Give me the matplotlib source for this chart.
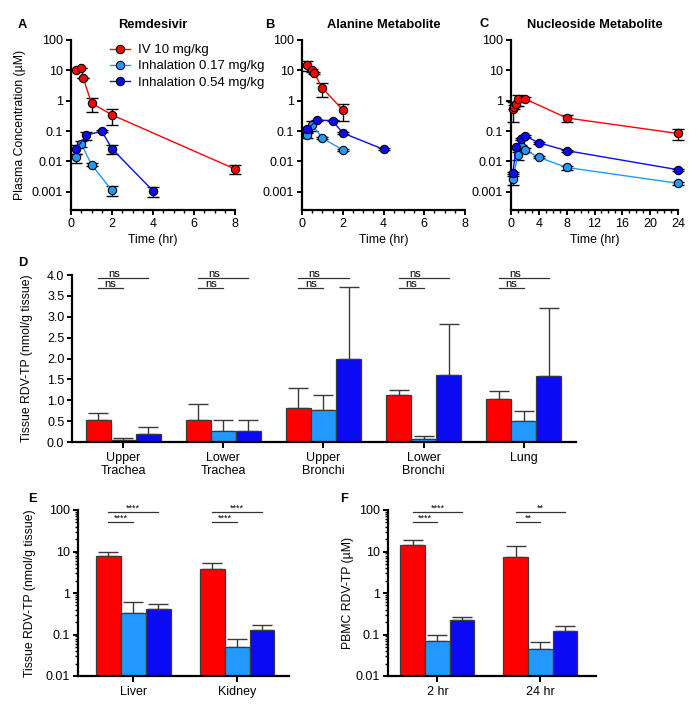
import numpy as np
import matplotlib
matplotlib.use("Agg")
import matplotlib.pyplot as plt
from matplotlib.ticker import FixedLocator, FixedFormatter, MultipleLocator, LogLocator, NullFormatter, NullLocator
from matplotlib.lines import Line2D

plt.rcParams['font.family'] = ['Liberation Sans', 'DejaVu Sans']

RED = '#FF0000'
LBLUE = '#2299FF'
BLUE = '#0A0AF5'
series_labels = ["IV 10 mg/kg", "Inhalation 0.17 mg/kg", "Inhalation 0.54 mg/kg"]

# ---------------- Panel A: Remdesivir ----------------
A_iv_t = [0.25, 0.5, 0.6, 1, 2, 8]
A_iv_c = [10.2, 12.2, 5.5, 0.83, 0.34, 0.0056]
A_iv_sd = [0, 0, 0, 0.40, 0.18, 0.0019]
A_lo_t = [0.25, 0.5, 1, 2]
A_lo_c = [0.0135, 0.038, 0.0078, 0.0011]
A_lo_sd = [0.0045, 0.008, 0.001, 0.0004]
A_hi_t = [0.25, 0.75, 1.5, 2, 4]
A_hi_c = [0.026, 0.072, 0.10, 0.026, 0.00107]
A_hi_sd = [0.008, 0.02, 0.005, 0.008, 0.0004]

# ---------------- Panel B: Alanine Metabolite ----------------
B_iv_t = [0.25, 0.5, 0.6, 1, 2]
B_iv_c = [14.6, 10.0, 8.2, 2.6, 0.50]
B_iv_sd = [5.0, 1.5, 0.8, 1.3, 0.29]
B_lo_t = [0.25, 0.5, 1, 2]
B_lo_c = [0.074, 0.16, 0.058, 0.024]
B_lo_sd = [0.015, 0.06, 0.004, 0.002]
B_hi_t = [0.25, 0.75, 1.5, 2, 4]
B_hi_c = [0.116, 0.23, 0.22, 0.086, 0.025]
B_hi_sd = [0.02, 0.01, 0.01, 0.005, 0.002]

# ---------------- Panel C: Nucleoside Metabolite ----------------
C_iv_t = [0.25, 0.5, 0.75, 1, 2, 8, 24]
C_iv_c = [0.55, 0.62, 0.78, 1.12, 1.15, 0.27, 0.083]
C_iv_sd = [0.35, 0.1, 0.1, 0.45, 0.2, 0.07, 0.032]
C_lo_t = [0.25, 1, 1.5, 2, 4, 8, 24]
C_lo_c = [0.0027, 0.016, 0.031, 0.024, 0.0136, 0.0063, 0.0019]
C_lo_sd = [0.001, 0.005, 0.003, 0.003, 0.001, 0.001, 0.0002]
C_hi_t = [0.25, 0.75, 1.5, 2, 4, 8, 24]
C_hi_c = [0.004, 0.029, 0.056, 0.07, 0.041, 0.0226, 0.0053]
C_hi_sd = [0.0006, 0.004, 0.004, 0.005, 0.003, 0.002, 0.0005]

# ---------------- Panel D: respiratory tissues ----------------
D_categories = ["Upper\nTrachea", "Lower\nTrachea", "Upper\nBronchi", "Lower\nBronchi", "Lung"]
D_iv = [0.53, 0.53, 0.81, 1.12, 1.03]
D_iv_sd = [0.16, 0.37, 0.48, 0.13, 0.19]
D_lo = [0.05, 0.26, 0.76, 0.07, 0.51]
D_lo_sd = [0.04, 0.26, 0.37, 0.07, 0.23]
D_hi = [0.20, 0.26, 1.99, 1.60, 1.58]
D_hi_sd = [0.17, 0.26, 1.73, 1.22, 1.64]
D_sig = [("ns", "ns")] * 5

# ---------------- Panel E: liver/kidney ----------------
E_categories = ["Liver", "Kidney"]
E_iv = [7.9, 3.7]
E_iv_sd = [1.8, 1.55]
E_lo = [0.33, 0.051]
E_lo_sd = [0.28, 0.028]
E_hi = [0.41, 0.13]
E_hi_sd = [0.14, 0.038]
E_sig = [("****", "****"), ("****", "****")]

# ---------------- Panel F: PBMC ----------------
F_categories = ["2 hr", "24 hr"]
F_iv = [14.1, 7.24]
F_iv_sd = [4.8, 6.1]
F_lo = [0.069, 0.045]
F_lo_sd = [0.030, 0.022]
F_hi = [0.227, 0.123]
F_hi_sd = [0.043, 0.039]
F_sig = [("****", "****"), ("**", "**")]

W, H = 700, 707
fig = plt.figure(figsize=(W / 100, H / 100), dpi=100)
TICK_FS = 9
LABEL_FS = 8.8


def rect(l, t, r, b):
    return [l / W, 1 - b / H, (r - l) / W, (b - t) / H]


def fx(x):
    return x / W


def fy(y):
    return 1 - y / H


def style(ax):
    for s in ['top', 'right']:
        ax.spines[s].set_visible(False)
    for s in ['left', 'bottom']:
        ax.spines[s].set_linewidth(1.6)
    ax.tick_params(which='major', direction='out', length=3.5, width=1.4, labelsize=TICK_FS, pad=2)
    ax.tick_params(which='minor', direction='out', length=2, width=1.0)


log_ticks = [0.001, 0.01, 0.1, 1, 10, 100]
log_labels = ["0.001", "0.01", "0.1", "1", "10", "100"]


def pk_panel(ax, data, xmax, xmajor, xminor):
    for (t, c, sd, col) in data:
        t = np.array(t); c = np.array(c); sd = np.array(sd)
        lo = np.minimum(sd, c * 0.9)
        ax.errorbar(t, c, yerr=[lo, sd], fmt='none', ecolor='black', elinewidth=1,
                    capsize=4.5, capthick=1, zorder=2, clip_on=False)
        ax.plot(t, c, '-o', color=col, mfc=col, mec='black', mew=0.8, ms=6.0, lw=1,
                zorder=3, clip_on=False)
    ax.set_yscale('log')
    ax.set_ylim(0.00025, 100)
    ax.yaxis.set_major_locator(FixedLocator(log_ticks))
    ax.yaxis.set_major_formatter(FixedFormatter(log_labels))
    ax.yaxis.set_minor_locator(NullLocator())
    ax.set_xlim(0, xmax)
    ax.xaxis.set_major_locator(MultipleLocator(xmajor))
    ax.xaxis.set_minor_locator(MultipleLocator(xminor))
    ax.set_xlabel("Time (hr)", fontsize=LABEL_FS, labelpad=3)
    style(ax)


axA = fig.add_axes(rect(71, 40, 235, 210))
pk_panel(axA, [(A_iv_t, A_iv_c, A_iv_sd, RED), (A_lo_t, A_lo_c, A_lo_sd, LBLUE),
               (A_hi_t, A_hi_c, A_hi_sd, BLUE)], 8, 2, 0.5)
axA.set_ylabel("Plasma Concentration (µM)", fontsize=LABEL_FS)
axA.yaxis.set_label_coords((26 - 71) / 164, 0.5)

axB = fig.add_axes(rect(302, 40, 465, 210))
pk_panel(axB, [(B_iv_t, B_iv_c, B_iv_sd, RED), (B_lo_t, B_lo_c, B_lo_sd, LBLUE),
               (B_hi_t, B_hi_c, B_hi_sd, BLUE)], 8, 2, 0.5)

axC = fig.add_axes(rect(511, 40, 678, 210))
pk_panel(axC, [(C_iv_t, C_iv_c, C_iv_sd, RED), (C_lo_t, C_lo_c, C_lo_sd, LBLUE),
               (C_hi_t, C_hi_c, C_hi_sd, BLUE)], 24, 4, 1)

handles = [Line2D([0], [0], color=c, marker='o', mfc=c, mec='black', mew=0.8, ms=6.0, lw=1)
           for c in (RED, LBLUE, BLUE)]
fig.legend(handles, series_labels, loc='upper left', bbox_to_anchor=(fx(110), fy(44)),
           frameon=False, fontsize=9.5, handlelength=1.55, handletextpad=0.6,
           labelspacing=0.3, borderpad=0, borderaxespad=0)

for txt, x in [("Remdesivir", 153), ("Alanine Metabolite", 383.5), ("Nucleoside Metabolite", 594.5)]:
    fig.text(fx(x), fy(25), txt, ha='center', va='center', fontsize=9.3, fontweight='bold')

for letter, x, y in [("A", 22, 25), ("B", 270, 25), ("C", 484, 24), ("D", 23, 263),
                     ("E", 32, 499), ("F", 344, 499)]:
    fig.text(fx(x), fy(y), letter, ha='center', va='center', fontsize=9.3, fontweight='bold')


def sig(ax, x0, x1, y, text, fs, xt=None):
    ax.plot([x0, x1], [y, y], color='#333333', lw=0.9, clip_on=False, zorder=4)
    if xt is None:
        xt = (x0 + x1) / 2
    ax.annotate(text, xy=(xt, y), xytext=(0, 1.0), textcoords='offset points',
                ha='center', va='baseline', fontsize=fs, annotation_clip=False)


def bar_group(ax, iv, iv_sd, lo, lo_sd, hi, hi_sd, width, bottom):
    x = np.arange(len(iv))
    for off, v, s, col in [(-width, iv, iv_sd, RED), (0, lo, lo_sd, LBLUE), (width, hi, hi_sd, BLUE)]:
        v = np.array(v)
        ax.bar(x + off, v - bottom, width=width, bottom=bottom, color=col, edgecolor='#3a3a3a',
               linewidth=0.9, zorder=2)
        ax.errorbar(x + off, v, yerr=[np.zeros_like(v), s], fmt='none', ecolor='#3a3a3a',
                    elinewidth=1, capsize=7.5, capthick=1, zorder=1, clip_on=False)
    return x


# Panel D
axD = fig.add_axes(rect(72, 275, 576, 442))
xD = bar_group(axD, D_iv, D_iv_sd, D_lo, D_lo_sd, D_hi, D_hi_sd, 0.25, 0)
axD.set_xlim(-0.51, 4.52)
axD.set_ylim(0, 4.0)
axD.yaxis.set_major_locator(FixedLocator([0, 0.5, 1, 1.5, 2, 2.5, 3, 3.5, 4]))
axD.yaxis.set_major_formatter(FixedFormatter(["0.0", "0.5", "1.0", "1.5", "2.0", "2.5", "3.0", "3.5", "4.0"]))
axD.set_xticks(xD)
axD.set_xticklabels(D_categories, fontsize=TICK_FS, linespacing=1.15)
axD.set_ylabel("Tissue RDV-TP (nmol/g tissue)", fontsize=LABEL_FS)
axD.yaxis.set_label_coords((33 - 72) / 504, 0.5)
style(axD)
axD.tick_params(axis='x', length=4, pad=3)
for i, (s1, s2) in enumerate(D_sig):
    sig(axD, i - 0.25, i + 0.25, 3.93, s1, 8, xt=i - 0.09)
    sig(axD, i - 0.25, i, 3.69, s2, 8)


def log_bar_panel(ax, iv, iv_sd, lo, lo_sd, hi, hi_sd, cats, sigs, xlim):
    x = bar_group(ax, iv, iv_sd, lo, lo_sd, hi, hi_sd, 0.24, 0.01)
    ax.set_yscale('log')
    ax.set_ylim(0.01, 100)
    ax.set_xlim(*xlim)
    ax.yaxis.set_major_locator(FixedLocator([0.01, 0.1, 1, 10, 100]))
    ax.yaxis.set_major_formatter(FixedFormatter(["0.01", "0.1", "1", "10", "100"]))
    ax.yaxis.set_minor_locator(LogLocator(base=10, subs=np.arange(2, 10), numticks=20))
    ax.yaxis.set_minor_formatter(NullFormatter())
    ax.set_xticks(x)
    ax.set_xticklabels(cats, fontsize=TICK_FS)
    style(ax)
    ax.tick_params(axis='x', length=4, pad=3)
    for i, (s1, s2) in enumerate(sigs):
        sig(ax, i - 0.24, i + 0.24, 90, s1, 6.5)
        sig(ax, i - 0.24, i, 51, s2, 6.5)


axE = fig.add_axes(rect(78, 510, 289, 676))
log_bar_panel(axE, E_iv, E_iv_sd, E_lo, E_lo_sd, E_hi, E_hi_sd, E_categories, E_sig, (-0.53, 1.5))
axE.set_ylabel("Tissue RDV-TP (nmol/g tissue)", fontsize=LABEL_FS)
axE.yaxis.set_label_coords((36 - 78) / 211, 0.5)

axF = fig.add_axes(rect(388, 510, 596, 676))
log_bar_panel(axF, F_iv, F_iv_sd, F_lo, F_lo_sd, F_hi, F_hi_sd, F_categories, F_sig, (-0.48, 1.54))
axF.set_ylabel("PBMC RDV-TP (µM)", fontsize=LABEL_FS)
axF.yaxis.set_label_coords((354 - 388) / 208, 0.5)

fig.savefig("out.png", dpi=100)
